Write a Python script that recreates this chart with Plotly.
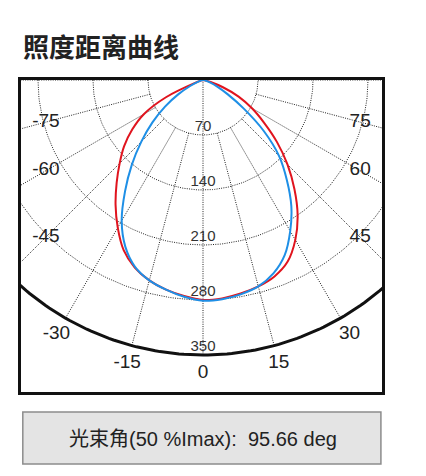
#照度距离曲线 - polar intensity plot drawn on cartesian axes

import numpy as np
import plotly.graph_objects as go

# Data
angles = [-90, -85, -80, -75, -70, -65, -60, -55, -50, -45, -40, -35, -30,
          -25, -20, -15, -10, -5, 0, 5, 10, 15, 20, 25, 30, 35, 40, 45,
          50, 55, 60, 65, 70, 75, 80, 85, 90]

red_vals = [0, 0, 0, 2, 10, 52, 87, 110, 131, 150, 171, 194, 217,
            239, 254, 264, 271, 276, 280, 279, 276, 272, 266, 255, 235, 210, 181, 152,
            123, 95, 72, 50, 27, 10, 2, 0, 0]

blue_vals = [0, 0, 0, 2, 7, 18, 36, 59, 84, 111, 141, 173, 207,
             234, 253, 264, 271, 277, 281, 280, 277, 272, 262, 246, 222, 196, 166, 137,
             101, 63, 36, 20, 10, 4, 1, 0, 0]

ring_vals = [70, 140, 210, 280]
outer_r = 350
spoke_angles = [-90, -75, -60, -45, -30, -15, 0, 15, 30, 45, 60, 75, 90]
label_angles = [-75, -60, -45, -30, -15, 0, 15, 30, 45, 60, 75]
ring_labels = [70, 140, 210, 280, 350]

title_txt = "照度距离曲线"
beam_txt = "光束角(50 %Imax):  95.66 deg"

FONT = "Liberation Sans, Arial, Noto Sans CJK SC, sans-serif"
GRID = "#222222"


def to_xy(theta_deg, r):
    t = np.radians(np.asarray(theta_deg, dtype=float))
    r = np.asarray(r, dtype=float)
    return r * np.sin(t), -r * np.cos(t)


fig = go.Figure()

# anillos punteados
arc = np.linspace(-90, 90, 181)
for rv in ring_vals:
    x, y = to_xy(arc, np.full_like(arc, rv))
    fig.add_trace(go.Scatter(x=x, y=y, mode="lines", hoverinfo="skip",
                             line=dict(color=GRID, width=1, dash="1px,1.3px")))

# radios
for a in spoke_angles:
    r0 = 0 if a == 0 else ring_vals[0]
    x, y = to_xy([a, a], [r0, outer_r])
    fig.add_trace(go.Scatter(x=x, y=y, mode="lines", hoverinfo="skip",
                             line=dict(color=GRID, width=1, dash="1px,1.3px")))

# arco exterior
x, y = to_xy(arc, np.full_like(arc, outer_r))
fig.add_trace(go.Scatter(x=x, y=y, mode="lines", hoverinfo="skip",
                         line=dict(color="#111111", width=3)))

# curvas
for vals, color in [(red_vals, "#e0141e"), (blue_vals, "#1e8fe6")]:
    x, y = to_xy(angles, vals)
    fig.add_trace(go.Scatter(x=x, y=y, mode="lines", hoverinfo="skip",
                             line=dict(color=color, width=2, shape="spline", smoothing=0.8)))

# etiquetas de anillos
fig.add_trace(go.Scatter(
    x=[0] * len(ring_labels), y=[-v for v in ring_labels],
    mode="text", text=[str(v) for v in ring_labels],
    textposition="top center",
    textfont=dict(family=FONT, size=15, color="#333333"),
    hoverinfo="skip",
))

# etiquetas de angulo
lab_r = [min(373, 200 / abs(np.sin(np.radians(a)))) if a != 0 else 373 for a in label_angles]
lx, ly = to_xy(label_angles, lab_r)
fig.add_trace(go.Scatter(
    x=lx, y=ly, mode="text", text=[str(a) for a in label_angles],
    textposition="middle center",
    textfont=dict(family=FONT, size=19, color="#222222"),
    hoverinfo="skip",
))

# Layout (the page body adds 8px, so the figure is 8px smaller and shifted)
s = 275 / outer_r  # px por unidad
fig.update_layout(
    width=418, height=468,
    margin=dict(l=13, r=44, t=72, b=84),
    paper_bgcolor="white", plot_bgcolor="white",
    showlegend=False,
    annotations=[
        dict(text="<b>" + title_txt + "</b>", xref="paper", yref="paper",
             x=0, y=(392 - 46) / 312, xanchor="left", yanchor="middle",
             showarrow=False,
             font=dict(family="Noto Sans CJK SC, sans-serif", size=26, color="#222222")),
        dict(text=beam_txt, xref="paper", yref="paper",
             x=0.503, y=(392 - 439) / 312, xanchor="center", yanchor="middle",
             showarrow=False,
             font=dict(family=FONT, size=20, color="#222222")),
    ],
    shapes=[
        dict(type="rect", xref="paper", yref="paper",
             x0=0.005, x1=0.997, y0=(392 - 464) / 312, y1=(392 - 412) / 312,
             fillcolor="#e4e4e4", line=dict(color="#8c8c8c", width=1.5)),
    ],
)
fig.update_xaxes(range=[-(203 - 21) / s, (382 - 203) / s], visible=True,
                 showgrid=False, zeroline=False, showticklabels=False, ticks="",
                 showline=True, mirror=True, linewidth=3, linecolor="#111111")
fig.update_yaxes(range=[-(392 - 80) / s, 0],
                 showgrid=False, zeroline=False, showticklabels=False, ticks="",
                 showline=True, mirror=True, linewidth=3, linecolor="#111111")

fig.write_html("out.html")
